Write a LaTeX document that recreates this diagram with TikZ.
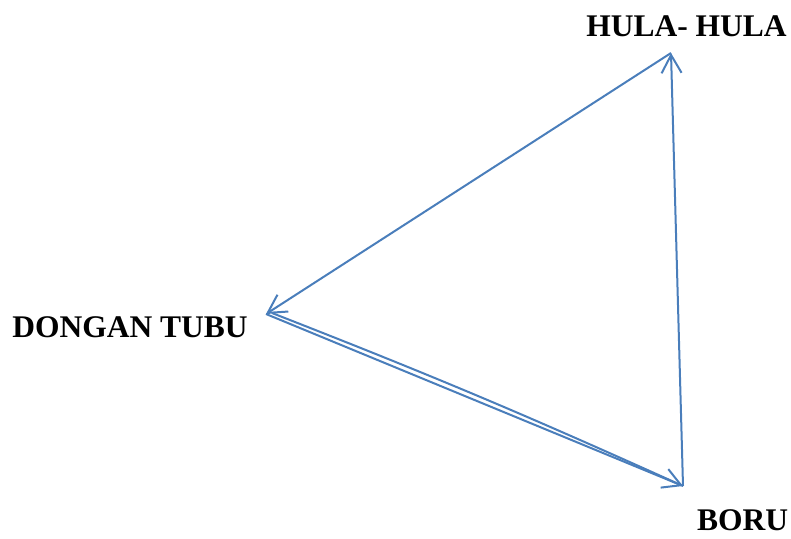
\documentclass[tikz,border=0pt]{standalone}
\usepackage{fontspec}
\setmainfont{Liberation Serif}
\usetikzlibrary{arrows.meta}
\definecolor{lineblue}{HTML}{4A7EBB}
\begin{document}
\begin{tikzpicture}[x=1pt,y=-1pt,
  conn/.style={draw=lineblue, line width=2pt, -{Straight Barb[length=18pt,width=20pt]}},
  plain/.style={draw=lineblue, line width=2pt},
  lbl/.style={font=\fontsize{31.5}{36}\selectfont\bfseries, inner sep=0pt, anchor=base}]
\useasboundingbox (0,0) rectangle (791,538);
\node[lbl] (hula) at (686.5,36) {HULA- HULA};
\node[lbl] (dongan) at (130,337) {DONGAN TUBU};
\node[lbl] (boru) at (742.5,530) {BORU};
\coordinate (hp) at (671,53);
\coordinate (dp) at (266,314);
\coordinate (dp2) at (272,313);
\coordinate (bp) at (683,486);
\draw[conn] (hp) -- (dp);
\draw[conn] (bp) -- (hp);
\draw[conn] (dp) -- (bp);
\draw[plain] (dp2) to[bend left=1.5] (bp);
\end{tikzpicture}
\end{document}
